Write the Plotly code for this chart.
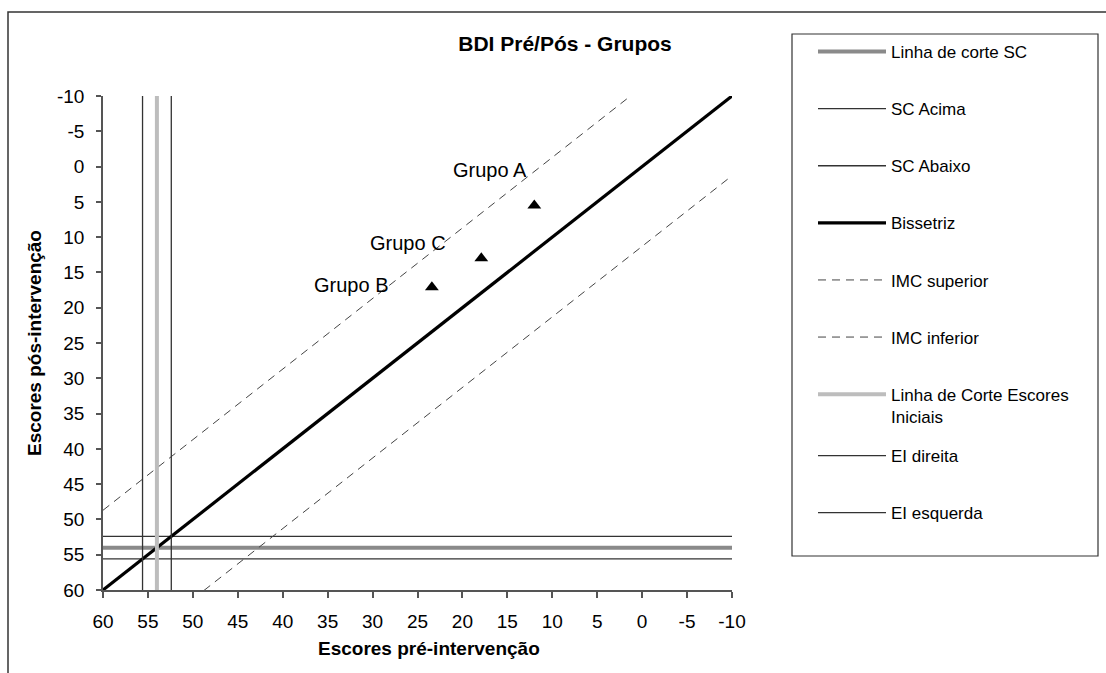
import plotly.graph_objects as go

# ---- data -------------------------------------------------------------
axis_hi, axis_lo = 60, -10
tick_vals = list(range(60, -15, -5))
tick_text = [str(v) for v in tick_vals]

# cut-off lines
corte_sc = 54.0
sc_acima = 52.4
sc_abaixo = 55.6
corte_ei = 54.0
ei_direita = 52.4
ei_esquerda = 55.6

# identity line and reliable-change bands (endpoints)
bissetriz_x = [60, -10]
bissetriz_y = [60, -10]
imc_sup_x = [60, 1.3]
imc_sup_y = [48.7, -10]
imc_inf_x = [50, -10]
imc_inf_y = [61.3, 1.3]

# group means
grupos = ["Grupo A", "Grupo B", "Grupo C"]
pre = [12.0, 23.4, 17.9]
pos = [5.5, 17.1, 13.0]

# ---- styling -----------------------------------------------------------
FONT = "Liberation Sans, Arial, sans-serif"
W, H = 1106, 673
PL, PR, PT, PB = 103, 732, 96, 590  # plot area in pixels


def fx(p):
    return (p - PL) / (PR - PL)


def fy(p):
    return (PB - p) / (PB - PT)


label_shift = {"Grupo A": (-5, 35), "Grupo B": (-42, 2), "Grupo C": (-33, 15)}

fig = go.Figure()

line_dark = "#333333"
dash_col = "#444444"


def add_line(x, y, name, color, width, dash="solid", legend="legend", clip=True):
    fig.add_trace(go.Scatter(
        x=x, y=y, mode="lines", name=name, legendgroup=name, legend=legend,
        line=dict(color=color, width=width, dash=dash), cliponaxis=clip,
        hoverinfo="skip"))


add_line([axis_hi, axis_lo], [corte_sc, corte_sc], "Linha de corte SC", "#8a8a8a", 4)
add_line([axis_hi, axis_lo], [sc_acima, sc_acima], "SC Acima", line_dark, 1.3)
add_line([axis_hi, axis_lo], [sc_abaixo, sc_abaixo], "SC Abaixo", line_dark, 1.3)
add_line(bissetriz_x, bissetriz_y, "Bissetriz", "#000000", 3.2)
add_line(imc_sup_x, imc_sup_y, "IMC superior", dash_col, 1, dash="8px,6px")
add_line(imc_inf_x, imc_inf_y, "IMC inferior", dash_col, 1, dash="8px,6px", clip=False)
add_line([corte_ei, corte_ei], [axis_hi, axis_lo], "Linha de Corte Escores<br>Iniciais", "#bdbdbd", 4)
add_line([ei_direita, ei_direita], [axis_hi, axis_lo], "EI direita", line_dark, 1.3, legend="legend2")
add_line([ei_esquerda, ei_esquerda], [axis_hi, axis_lo], "EI esquerda", line_dark, 1.3, legend="legend2")

fig.add_trace(go.Scatter(
    x=pre, y=pos, mode="markers", showlegend=False, hoverinfo="skip",
    marker=dict(symbol="triangle-up", size=12, color="#000000")))

annotations = []
for g, xv, yv in zip(grupos, pre, pos):
    dx, dy = label_shift[g]
    annotations.append(dict(
        x=xv, y=yv, xref="x", yref="y", text=g, showarrow=False,
        xanchor="right", yanchor="middle", xshift=dx, yshift=dy,
        font=dict(family=FONT, size=20, color="#000000")))

annotations += [
    dict(text="<b>Escores pré-intervenção</b>", x=fx(429), y=fy(648),
         xref="paper", yref="paper", showarrow=False, xanchor="center",
         yanchor="middle", font=dict(family=FONT, size=19, color="#000")),
    dict(text="<b>Escores pós-intervenção</b>", x=fx(34), y=fy(343),
         xref="paper", yref="paper", showarrow=False, xanchor="center",
         yanchor="middle", textangle=-90,
         font=dict(family=FONT, size=19, color="#000")),
]

shapes = [
    # chart frame
    dict(type="rect", xref="paper", yref="paper", x0=fx(8), y0=fy(690),
         x1=fx(1120), y1=fy(12), line=dict(color="#333333", width=1.5)),
    # legend frame
    dict(type="rect", xref="paper", yref="paper", x0=fx(792), y0=fy(556),
         x1=fx(1098), y1=fy(34), line=dict(color="#333333", width=1.2)),
]

axis_common = dict(
    range=[axis_hi, axis_lo], tickvals=tick_vals, ticktext=tick_text,
    showgrid=False, zeroline=False, showline=True, linecolor="#555555",
    linewidth=1.5, tickcolor="#555555", tickwidth=1.5,
    tickfont=dict(family=FONT, size=19, color="#000000"),
)

legend_common = dict(
    bgcolor="rgba(0,0,0,0)", borderwidth=0, itemwidth=68,
    font=dict(family=FONT, size=17, color="#000000"),
    traceorder="grouped", xanchor="left", yanchor="top",
    itemclick=False, itemdoubleclick=False, valign="top",
    maxheight=640,
)

fig.update_layout(
    width=W, height=H, autosize=False,
    margin=dict(l=PL, r=W - PR, t=PT, b=H - PB, pad=0),
    paper_bgcolor="#ffffff", plot_bgcolor="#ffffff",
    title=dict(text="<b>BDI Pré/Pós - Grupos</b>", x=565 / W, y=1 - 44 / H,
               xref="container", yref="container", xanchor="center",
               yanchor="middle", font=dict(family=FONT, size=21, color="#000")),
    xaxis=dict(**axis_common, ticks="outside", ticklen=6, ticklabelstandoff=7),
    xaxis2=dict(range=[axis_hi, axis_lo], tickvals=tick_vals, overlaying="x",
                anchor="y", side="bottom", ticks="inside", ticklen=6,
                tickcolor="#555555", tickwidth=1.5, showticklabels=False,
                showgrid=False, zeroline=False, showline=False),
    yaxis=dict(**axis_common, ticks="outside", ticklen=5, ticklabelstandoff=8),
    legend=dict(**legend_common, x=fx(813), y=fy(34), tracegroupgap=32),
    legend2=dict(**legend_common, x=fx(813), y=fy(438), tracegroupgap=32),
    annotations=annotations,
    shapes=shapes,
    showlegend=True,
)

fig.write_html("out.html")
